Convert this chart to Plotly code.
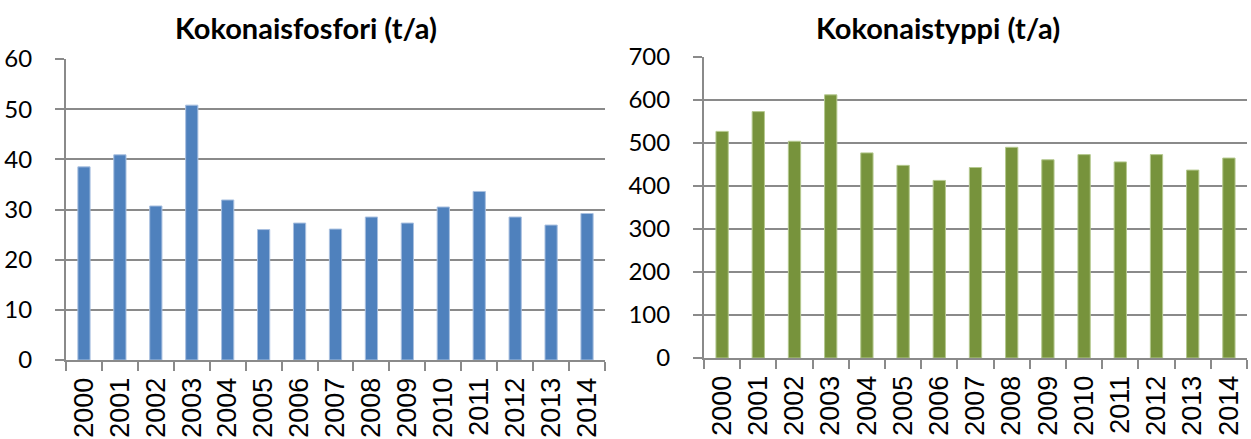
import plotly.graph_objects as go

years = [str(y) for y in range(2000, 2015)]
fosfori = [38.5, 40.9, 30.7, 50.8, 31.9, 26.0, 27.3, 26.1, 28.5, 27.3, 30.5, 33.6, 28.5, 26.9, 29.2]
typpi = [527, 573, 504, 612, 477, 448, 413, 443, 490, 461, 473, 456, 473, 437, 465]
titles = ["Kokonaisfosfori (t/a)", "Kokonaistyppi (t/a)"]

W, H = 1251, 439
GRID = "#8a8a8a"

fig = go.Figure()
fig.add_trace(go.Bar(x=years, y=fosfori, marker=dict(color="#4F81BD", line=dict(color="#a9c0e0", width=1)),
                     xaxis="x", yaxis="y", showlegend=False))
fig.add_trace(go.Bar(x=years, y=typpi, marker=dict(color="#77933C", line=dict(color="#b5c98f", width=1)),
                     xaxis="x2", yaxis="y2", showlegend=False))

def xa(domain, anchor):
    return dict(domain=domain, anchor=anchor, type="category", tickangle=-90, automargin=False,
                showline=True, linecolor=GRID, linewidth=2, ticks="outside", tickson="boundaries",
                ticklen=9, tickcolor=GRID, tickwidth=2, showgrid=False,
                tickfont=dict(family="Liberation Sans", size=27, color="black"),
                ticklabelstandoff=5, fixedrange=True)

def ya(domain, anchor, rng, dtick):
    return dict(domain=domain, anchor=anchor, range=rng, dtick=dtick, automargin=False,
                showline=True, linecolor=GRID, linewidth=2, ticks="outside", ticklen=9,
                tickcolor=GRID, tickwidth=2, showgrid=True, gridcolor=GRID, gridwidth=2,
                zeroline=False, tickfont=dict(family="Lato", size=24, color="black"),
                ticklabelstandoff=18)

fig.update_layout(
    width=W, height=H, margin=dict(l=0, r=0, t=0, b=0),
    paper_bgcolor="white", plot_bgcolor="white", bargap=0.66,
    xaxis=xa([66 / W, 605 / W], "y"),
    yaxis=ya([(H - 360) / H, (H - 59) / H], "x", [0, 60], 10),
    xaxis2=xa([704 / W, 1247 / W], "y2"),
    yaxis2=ya([(H - 358) / H, (H - 57) / H], "x2", [0, 700], 100),
    annotations=[
        dict(text="<b>" + titles[0] + "</b>", x=306 / W, y=(H - 27) / H, xref="paper", yref="paper",
             showarrow=False, font=dict(family="Lato", size=29, color="black"), xanchor="center", yanchor="middle"),
        dict(text="<b>" + titles[1] + "</b>", x=938 / W, y=(H - 27) / H, xref="paper", yref="paper",
             showarrow=False, font=dict(family="Lato", size=29, color="black"), xanchor="center", yanchor="middle"),
    ],
)

fig.write_html("out.html", config={"displayModeBar": False})

# remove the default browser body margin so the figure fills the window exactly
with open("out.html", encoding="utf-8") as f:
    html = f.read()
html = html.replace("<body>", '<body style="margin:0;overflow:hidden">', 1)
with open("out.html", "w", encoding="utf-8") as f:
    f.write(html)
